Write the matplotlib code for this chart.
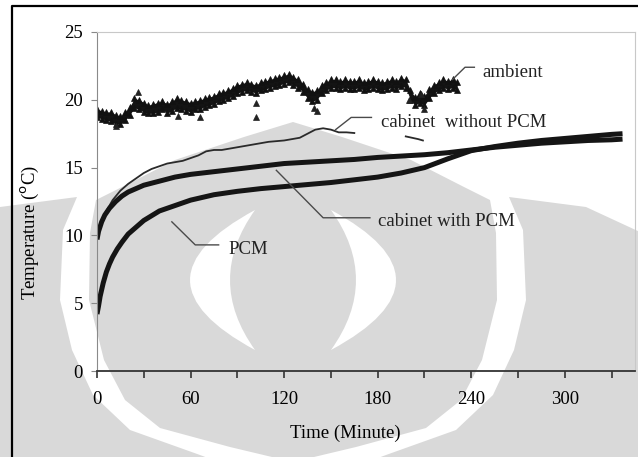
import matplotlib
matplotlib.use('Agg')
import matplotlib.pyplot as plt
import matplotlib.transforms as mtransforms
from matplotlib.path import Path
from matplotlib.patches import PathPatch, Polygon
from matplotlib.lines import Line2D
from matplotlib.ticker import MultipleLocator

plt.rcParams['font.family'] = ['Liberation Serif', 'DejaVu Serif']
plt.rcParams['font.size'] = 13.5

# ambient (scatter band, read as upper / lower edge every 3 min)
amb_t = list(range(0, 232, 3))
amb_hi = [19.3, 19.2, 19.1, 19.1, 18.9, 18.8, 19.1, 19.5, 20.1, 20.0,
          19.8, 19.6, 19.7, 19.8, 19.9, 19.7, 19.9, 20.1, 20.0, 19.9,
          19.8, 19.9, 20.0, 20.1, 20.2, 20.3, 20.5, 20.6, 20.7, 20.9,
          21.1, 21.2, 21.3, 21.2, 21.1, 21.3, 21.4, 21.5, 21.6, 21.7,
          21.8, 21.9, 21.7, 21.5, 21.2, 20.8, 20.6, 20.7, 21.1, 21.3,
          21.5, 21.5, 21.4, 21.5, 21.4, 21.4, 21.5, 21.3, 21.4, 21.5,
          21.4, 21.3, 21.4, 21.5, 21.4, 21.6, 21.5, 20.7, 20.2, 20.5,
          20.3, 20.8, 21.1, 21.3, 21.5, 21.4, 21.5, 21.3]
amb_lo = [18.7, 18.6, 18.5, 18.4, 18.2, 18.2, 18.5, 18.9, 19.4, 19.3,
          19.1, 19.0, 19.0, 19.1, 19.3, 19.0, 19.2, 19.4, 19.3, 19.2,
          19.1, 19.3, 19.3, 19.5, 19.6, 19.7, 19.9, 20.0, 20.1, 20.3,
          20.5, 20.6, 20.7, 20.6, 20.5, 20.7, 20.8, 20.9, 21.0, 21.1,
          21.2, 21.3, 21.1, 20.9, 20.6, 20.1, 19.9, 20.0, 20.5, 20.7,
          20.9, 20.9, 20.8, 20.9, 20.8, 20.8, 20.9, 20.7, 20.8, 20.9,
          20.8, 20.7, 20.8, 20.9, 20.8, 21.0, 20.9, 20.0, 19.6, 19.8,
          19.6, 20.1, 20.5, 20.7, 20.9, 20.8, 20.9, 20.7]
amb_out_t = [12, 26, 52, 66, 102, 102, 139, 141, 200, 208, 210]
amb_out_v = [18.1, 20.6, 18.8, 18.7, 19.8, 18.7, 19.4, 19.2, 20.0, 20.4, 19.3]

# cabinet without PCM (thin line, two pieces)
nopcm_t = [0, 2, 5, 10, 15, 20, 25, 30, 35, 40, 45, 50, 55, 60, 65, 70, 75,
           80, 90, 100, 110, 120, 130, 135, 140, 145, 150, 155, 160, 165]
nopcm_v = [10.0, 10.8, 11.6, 12.6, 13.3, 13.8, 14.2, 14.6, 14.9, 15.1, 15.3,
           15.4, 15.5, 15.7, 15.9, 16.2, 16.3, 16.3, 16.5, 16.7, 16.9, 17.0,
           17.2, 17.5, 17.8, 17.9, 17.8, 17.6, 17.6, 17.55]
nopcm2_t = [198, 202, 206, 209]
nopcm2_v = [17.3, 17.2, 17.1, 17.0]

# cabinet with PCM
cab_t = [0, 1, 3, 5, 8, 12, 16, 20, 30, 40, 50, 60, 75, 90, 105, 120, 135,
         150, 165, 180, 195, 210, 225, 240, 255, 270, 285, 300, 315, 330, 337]
cab_v = [9.7, 10.3, 11.0, 11.5, 12.0, 12.5, 12.9, 13.2, 13.7, 14.0, 14.3,
         14.5, 14.7, 14.9, 15.1, 15.3, 15.4, 15.5, 15.6, 15.75, 15.85, 15.95,
         16.1, 16.3, 16.5, 16.65, 16.8, 16.9, 17.0, 17.05, 17.1]

# PCM
pcm_t = [0, 1, 2, 4, 6, 8, 10, 13, 16, 20, 25, 30, 40, 50, 60, 75, 90, 105,
         120, 135, 150, 165, 180, 195, 210, 225, 240, 255, 270, 285, 300, 315,
         330, 337]
pcm_v = [4.2, 4.8, 5.5, 6.5, 7.3, 7.9, 8.4, 9.0, 9.5, 10.1, 10.6, 11.1, 11.8,
         12.2, 12.6, 13.0, 13.25, 13.45, 13.6, 13.75, 13.9, 14.1, 14.3, 14.6,
         15.0, 15.65, 16.25, 16.55, 16.8, 17.0, 17.15, 17.3, 17.45, 17.5]

fig = plt.figure(figsize=(6.38, 4.57), dpi=100)
fig.patch.set_facecolor('white')

# background watermark, in image pixel coords (y down)
px = mtransforms.Affine2D().scale(1 / 638, -1 / 457).translate(0, 1) + fig.transFigure
wm = '#d9d9d9'
onion_left = [(293, 122), (244, 137), (175, 160), (122, 187), (96, 200), (90, 233),
              (89, 300), (104, 360), (125, 400), (160, 428), (230, 447), (293, 462)]
onion = onion_left + [(586 - x, y) for x, y in onion_left[::-1]]
petal_left = [(0, 207), (77, 197), (63, 230), (60, 300), (72, 350), (93, 395),
              (130, 430), (200, 455), (240, 470), (0, 470)]
petal_right = [(586 - x, y) for x, y in petal_left[:-1]] + [(640, 470), (640, 232)]
for poly in (onion, petal_left, petal_right):
    fig.patches.append(Polygon(poly, closed=True, transform=px, facecolor=wm,
                               edgecolor='none', zorder=-5))
for tip_x, c_out, c_in in ((255, 125, 205), (331, 461, 381)):
    path = Path([(tip_x, 210), (c_out, 280), (tip_x, 350), (c_in, 280), (tip_x, 210), (tip_x, 210)],
                [Path.MOVETO, Path.CURVE3, Path.CURVE3, Path.CURVE3, Path.CURVE3, Path.CLOSEPOLY])
    fig.patches.append(PathPatch(path, transform=px, facecolor='white',
                                 edgecolor='none', zorder=-4))
fig.lines.append(Line2D([12, 12, 645], [470, 6, 6], transform=px, color='black',
                        lw=1.6, zorder=5))

ax = fig.add_axes([97 / 638, 86 / 457, 538 / 638, 339 / 457])
ax.set_facecolor('none')

ax.fill_between(amb_t, amb_lo, amb_hi, color='#141414', lw=0)
ax.plot(amb_t, amb_hi, ls='none', marker='^', ms=5, color='#111111', mew=0.5)
ax.plot(amb_t, amb_lo, ls='none', marker='^', ms=5, color='#111111', mew=0.5)
ax.plot(amb_out_t, amb_out_v, ls='none', marker='^', ms=4, color='#222222', mew=0.5)
ax.plot(nopcm_t, nopcm_v, color='#2a2a2a', lw=1.3)
ax.plot(nopcm2_t, nopcm2_v, color='#2a2a2a', lw=1.3)
ax.plot(cab_t, cab_v, color='#151515', lw=3.6, solid_capstyle='butt')
ax.plot(pcm_t, pcm_v, color='#151515', lw=3.6, solid_capstyle='butt')

# leader lines and labels
lead = '#4a4a4a'
ax.plot([228, 236, 242], [21.5, 22.4, 22.4], color=lead, lw=1)
ax.text(247, 22.05, 'ambient', va='center', ha='left', color='#222222')
ax.plot([153, 163, 176], [17.8, 18.7, 18.7], color=lead, lw=1)
ax.text(182, 18.3, 'cabinet  without PCM', va='center', ha='left', color='#222222')
ax.plot([115, 145, 175], [14.8, 11.3, 11.3], color=lead, lw=1)
ax.text(180, 11.0, 'cabinet with PCM', va='center', ha='left', color='#222222')
ax.plot([48, 63, 78], [11.0, 9.3, 9.3], color=lead, lw=1)
ax.text(84, 8.95, 'PCM', va='center', ha='left', color='#222222')

ax.set_xlim(0, 345)
ax.set_ylim(0, 25)
ax.xaxis.set_major_locator(MultipleLocator(60))
ax.xaxis.set_minor_locator(MultipleLocator(30))
ax.yaxis.set_major_locator(MultipleLocator(5))
ax.tick_params(axis='x', which='both', direction='out', length=5, width=1.2,
               color='#333333', pad=9.5, labelsize=13.5)
ax.tick_params(axis='y', direction='out', length=4, width=0.8, color='#888888',
               pad=6, labelsize=13.5)
ax.spines['left'].set_color('#8a8a8a')
ax.spines['bottom'].set_color('#333333')
ax.spines['bottom'].set_linewidth(1.3)
ax.spines['top'].set_color('#c8c8c8')
ax.spines['right'].set_color('#c8c8c8')

ax.set_xlabel('Time (Minute)', fontsize=13.5)
ax.xaxis.set_label_coords(0.461, -0.159)
ax.set_ylabel(r'Temperature ($^{\rm o}$C)', fontsize=13.5)
ax.yaxis.set_label_coords(-0.105, 0.41)

fig.savefig('out.png', dpi=100)
